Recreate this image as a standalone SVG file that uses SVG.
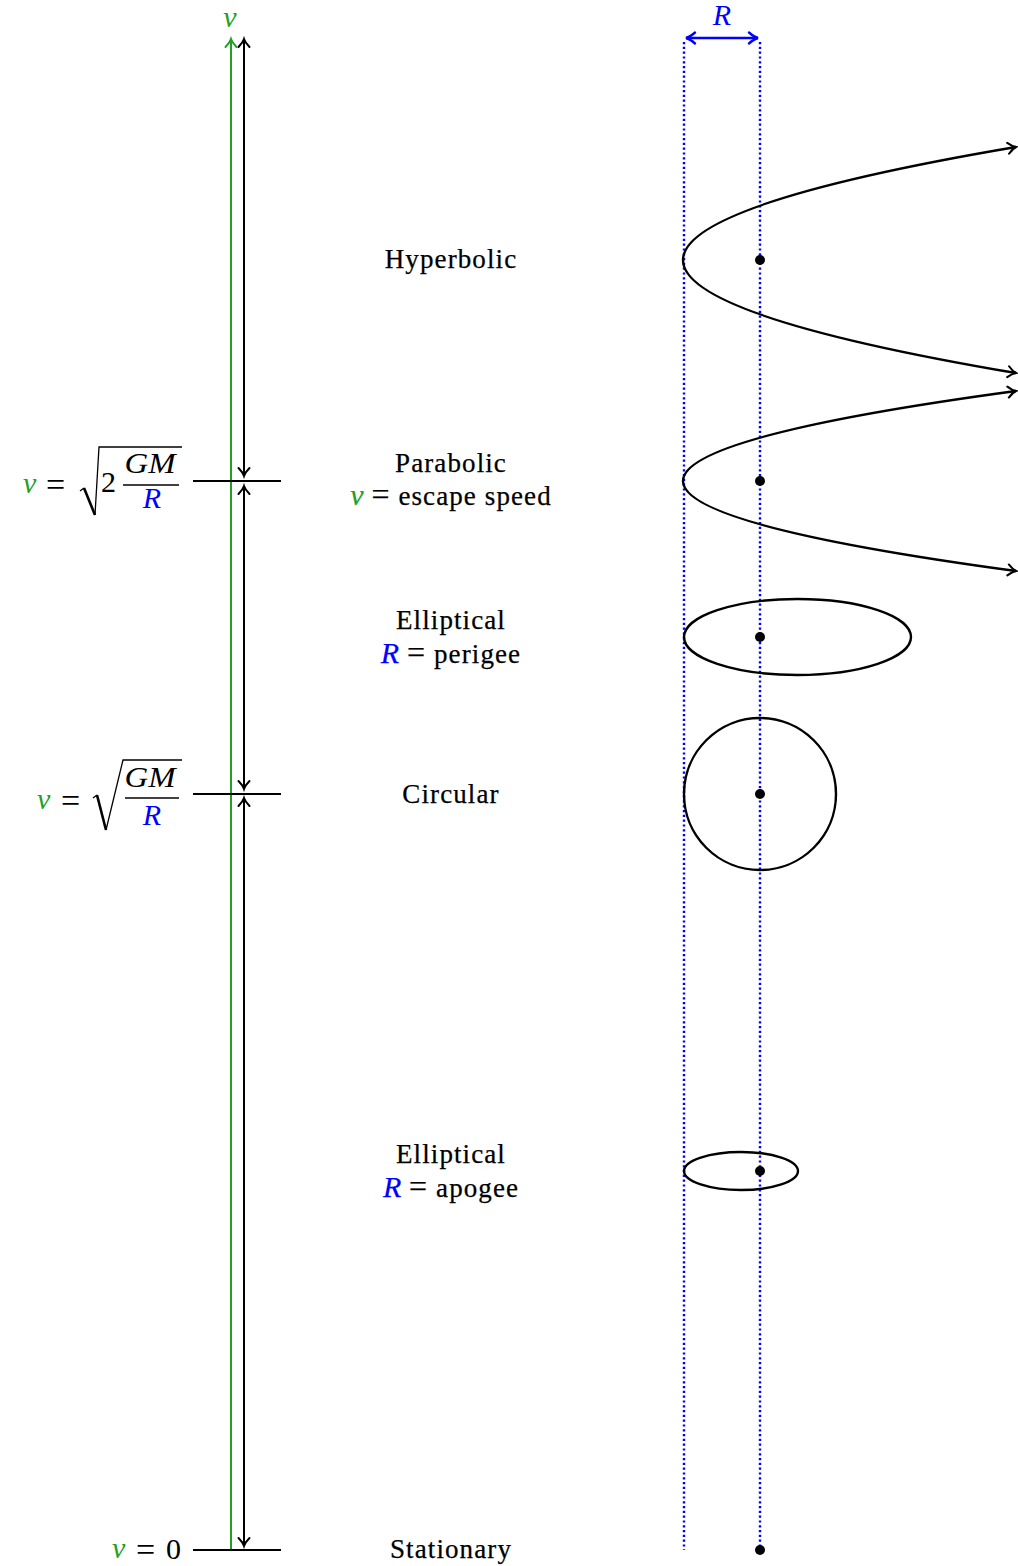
<svg xmlns="http://www.w3.org/2000/svg" width="1018" height="1566" viewBox="0 0 1018 1566">
<style>
.lbl{font-family:"Liberation Serif",serif;font-size:27px;letter-spacing:1.1px;text-anchor:middle;fill:#000;stroke:#000;stroke-width:0.25px}
.m{font-family:"Liberation Serif",serif;font-size:30px;fill:#000}
.eq{font-family:"Liberation Serif",serif;font-size:34px;font-style:normal;fill:#000}
.mi{font-style:italic}
.g{fill:#22a022;stroke:#22a022}
.b{fill:#0000ff;stroke:#0000ff}
.m.g,.m.b{stroke:none}
.tv{font-size:30px;letter-spacing:0}
.tick{stroke:#000;stroke-width:2.2;fill:none}
.curve{stroke:#000;stroke-width:2.4;fill:none}
.dot{fill:#000}
.dotted{stroke:#0000ff;stroke-width:2.4;stroke-dasharray:2.2 2.6;fill:none}
.rad{stroke:#000;stroke-width:1.3;fill:none;stroke-linejoin:miter}
</style>
<defs>
<marker id="ak" viewBox="-10 -7 12 14" refX="0" refY="0" markerWidth="12" markerHeight="14" markerUnits="userSpaceOnUse" orient="auto-start-reverse" overflow="visible">
<path d="M-8,-5.5 C-4.5,-2 -1.5,-0.5 0,0 C-1.5,0.5 -4.5,2 -8,5.5" fill="none" stroke="#000" stroke-width="2" stroke-linecap="round"/>
</marker>
<marker id="ag" viewBox="-10 -7 12 14" refX="0" refY="0" markerWidth="12" markerHeight="14" markerUnits="userSpaceOnUse" orient="auto-start-reverse" overflow="visible">
<path d="M-8,-5.5 C-4.5,-2 -1.5,-0.5 0,0 C-1.5,0.5 -4.5,2 -8,5.5" fill="none" stroke="#22a022" stroke-width="2" stroke-linecap="round"/>
</marker>
<marker id="ab" viewBox="-10 -7 12 14" refX="0" refY="0" markerWidth="12" markerHeight="14" markerUnits="userSpaceOnUse" orient="auto-start-reverse" overflow="visible">
<path d="M-9,-5.5 C-5,-2 -2,-0.5 0,0 C-2,0.5 -5,2 -9,5.5" fill="none" stroke="#0000ff" stroke-width="2.4" stroke-linecap="round"/>
</marker>
</defs>
<rect width="1018" height="1566" fill="#fff"/>

<g id="guides">
<line class="dotted" x1="684" y1="42" x2="684" y2="1550"/>
<line class="dotted" x1="760" y1="42" x2="760" y2="1550"/>
</g>

<g id="connectors">
<line x1="231" y1="1550" x2="231" y2="39" stroke="#22a022" stroke-width="2" marker-end="url(#ag)"/>
<line x1="244" y1="39" x2="244" y2="476" stroke="#000" stroke-width="2" marker-start="url(#ak)" marker-end="url(#ak)"/>
<line x1="244" y1="486" x2="244" y2="789" stroke="#000" stroke-width="2" marker-start="url(#ak)" marker-end="url(#ak)"/>
<line x1="244" y1="798" x2="244" y2="1546" stroke="#000" stroke-width="2" marker-start="url(#ak)" marker-end="url(#ak)"/>
<line x1="686" y1="38" x2="758" y2="38" stroke="#0000ff" stroke-width="2.4" marker-start="url(#ab)" marker-end="url(#ab)"/>
</g>

<g id="axis-top">
<text class="m mi g" x="230" y="27" text-anchor="middle">v</text>
<text class="m mi b" x="722" y="25" text-anchor="middle">R</text>
</g>

<g id="level-escape">
<line class="tick" x1="193" y1="481" x2="281" y2="481"/>
<text class="m mi g" x="23" y="493">v</text>
<text class="eq" x="46" y="496">=</text>
<path class="rad" d="M80,491 L84,488"/>
<path d="M84,488 L95,515" stroke="#000" stroke-width="2.6" fill="none"/>
<path class="rad" d="M95,515 L99,447 L182,447"/>
<text class="m" x="101" y="492">2</text>
<text class="m mi" x="150" y="473" text-anchor="middle" textLength="51" lengthAdjust="spacingAndGlyphs">GM</text>
<line x1="123" y1="485" x2="179" y2="485" stroke="#000" stroke-width="1.3"/>
<text class="m mi b" x="152" y="508" text-anchor="middle">R</text>
</g>

<g id="level-circular">
<line class="tick" x1="193" y1="794" x2="281" y2="794"/>
<text class="m mi g" x="37" y="809">v</text>
<text class="eq" x="61" y="812">=</text>
<path class="rad" d="M93,798 L97,795"/>
<path d="M97,795 L106,830" stroke="#000" stroke-width="2.6" fill="none"/>
<path class="rad" d="M106,830 L123,760 L182,760"/>
<text class="m mi" x="150" y="787" text-anchor="middle" textLength="51" lengthAdjust="spacingAndGlyphs">GM</text>
<line x1="125" y1="798" x2="179" y2="798" stroke="#000" stroke-width="1.3"/>
<text class="m mi b" x="152" y="825" text-anchor="middle">R</text>
</g>

<g id="level-zero">
<line class="tick" x1="193" y1="1550" x2="281" y2="1550"/>
<text class="m mi g" x="112" y="1558">v</text>
<text class="eq" x="136" y="1561">=</text>
<text class="m" x="166" y="1559">0</text>
</g>

<g id="hyperbolic">
<text class="lbl" x="451" y="268">Hyperbolic</text>
<path class="curve" d="M1016,147 Q350,260 1016,373" marker-start="url(#ak)" marker-end="url(#ak)"/>
<circle class="dot" cx="760" cy="260" r="5"/>
</g>

<g id="parabolic">
<text class="lbl" x="451" y="472">Parabolic</text>
<text class="lbl" x="451" y="505"><tspan class="mi g tv">v</tspan> <tspan style="font-size:32px">=</tspan> escape speed</text>
<path class="curve" d="M1016,391 Q350,481 1016,571" marker-start="url(#ak)" marker-end="url(#ak)"/>
<circle class="dot" cx="760" cy="481" r="5"/>
</g>

<g id="elliptical-perigee">
<text class="lbl" x="451" y="629">Elliptical</text>
<text class="lbl" x="451" y="663"><tspan class="mi b tv">R</tspan> <tspan style="font-size:32px">=</tspan> perigee</text>
<ellipse class="curve" cx="797.5" cy="637" rx="113.5" ry="38"/>
<circle class="dot" cx="760" cy="637" r="5"/>
</g>

<g id="circular">
<text class="lbl" x="451" y="803">Circular</text>
<circle class="curve" cx="760" cy="794" r="76"/>
<circle class="dot" cx="760" cy="794" r="5"/>
</g>

<g id="elliptical-apogee">
<text class="lbl" x="451" y="1163">Elliptical</text>
<text class="lbl" x="451" y="1197"><tspan class="mi b tv">R</tspan> <tspan style="font-size:32px">=</tspan> apogee</text>
<ellipse class="curve" cx="741" cy="1171" rx="57" ry="19"/>
<circle class="dot" cx="760" cy="1171" r="5"/>
</g>

<g id="stationary">
<text class="lbl" x="451" y="1558">Stationary</text>
<circle class="dot" cx="760" cy="1550" r="5"/>
</g>
</svg>
